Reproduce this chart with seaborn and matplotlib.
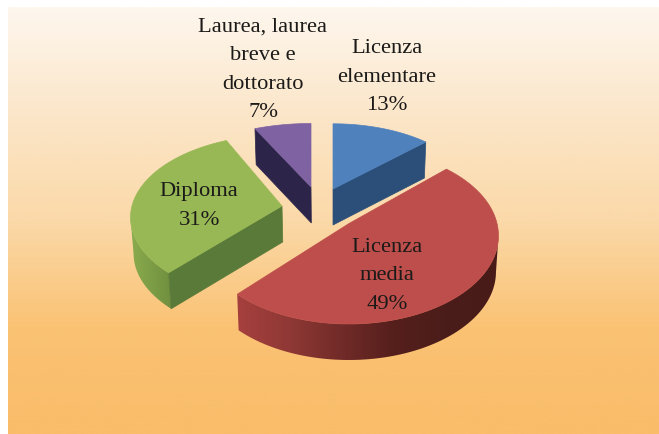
import numpy as np
import matplotlib
matplotlib.use('Agg')
import matplotlib.pyplot as plt
from matplotlib.patches import Polygon
import seaborn as sns

# chart data
labels = ['Licenza\nelementare', 'Licenza\nmedia', 'Diploma', 'Laurea, laurea\nbreve e\ndottorato']
values = [13, 49, 31, 7]

sns.set_theme(style='white')
plt.rcParams['font.family'] = ['Liberation Serif', 'DejaVu Serif']

top_colors = ['#4f81bd', '#bd4e4b', '#98b855', '#7f62a1']
cut_colors = ['#2b4f79', None, '#597a38', '#2d2549']
# side shading, left to right on the picture
arc_cols = [None, ['#a6403e', '#8f3835', '#712b28', '#551f1c', '#4b1d1a', '#491b18'], ['#8aab4d', '#6f8f3f'], None]

# per slice placement on the picture: apex x, apex y, radius x, radius y
place = [(333, 190, 141, 76), (349, 224.5, 148, 88), (282, 207, 150, 83), (311, 188, 151, 74)]
text_pos = [(387, 77), (387, 276), (199, 206), (263, 70)]

persp = 0.142
depth = 36
vanish_x = 333

fig, ax = plt.subplots(figsize=(6.59, 4.35), dpi=100)
fig.subplots_adjust(0, 0, 1, 1)
ax.axis('off')

# background gradient panel
bg = sns.blend_palette(['#fef7ee', '#fbe6c9', '#fbd9a8', '#fac274', '#fabd69'], 256)
ax.imshow(np.array(bg)[:, None, :], extent=(8, 659, 435, 8), aspect='auto', zorder=0)


def top_pt(slice_i, theta):
    cx, cy, rx, ry = place[slice_i]
    s = 1 - persp * np.cos(theta)
    return cx + rx * np.sin(theta) * s, cy - ry * np.cos(theta) * s


def drop(x, y):
    return vanish_x + (x - vanish_x) * 0.985, y + depth


shares = np.array(values) / sum(values) * 2 * np.pi
starts = np.concatenate([[0], np.cumsum(shares)[:-1]])

# back to front
order = [3, 0, 2, 1]
for z, i in enumerate(order):
    z = z * 2 + 2
    a0, a1 = starts[i], starts[i] + shares[i]
    cx, cy = place[i][:2]

    # curved side, cut at the silhouette points of the arc
    if arc_cols[i] is not None:
        th = np.linspace(a0, a1, 300)
        xt, yt = top_pt(i, th)
        right, left = xt.argmax(), xt.argmin()
        keep = np.arange(right if right < left else 0, left + 1)
        xt, yt = xt[keep], yt[keep]
        xb, yb = drop(xt, yt)
        outline = np.c_[np.r_[xt, xb[::-1]], np.r_[yt, yb[::-1]]]
        grad = np.array(sns.blend_palette(arc_cols[i], 256))[None, :, :]
        im = ax.imshow(grad, extent=(outline[:, 0].min(), outline[:, 0].max(), outline[:, 1].max(), outline[:, 1].min()),
                       aspect='auto', zorder=z)
        im.set_clip_path(Polygon(outline, transform=ax.transData))

    # flat cut side
    if cut_colors[i] is not None:
        edge = {0: a1, 2: a0, 3: a0}[i]
        xe, ye = top_pt(i, edge)
        xeb, yeb = drop(xe, ye)
        xab, yab = drop(cx, cy)
        ax.fill([cx, xe, xeb, xab], [cy, ye, yeb, yab], color=cut_colors[i], lw=0.5, zorder=z)

    # top face
    th = np.linspace(a0, a1, 120)
    xs, ys = top_pt(i, th)
    ax.fill(np.r_[cx, xs], np.r_[cy, ys], color=top_colors[i], lw=0.5, zorder=z + 1)

for lab, val, (tx, ty) in zip(labels, values, text_pos):
    ax.text(tx, ty, f'{lab}\n{val}%', ha='center', va='center', fontsize=16.2,
            color='#1c1a18', linespacing=1.68, zorder=20)

ax.set_xlim(0, 659)
ax.set_ylim(435, 0)

fig.savefig('out.png', dpi=100)
